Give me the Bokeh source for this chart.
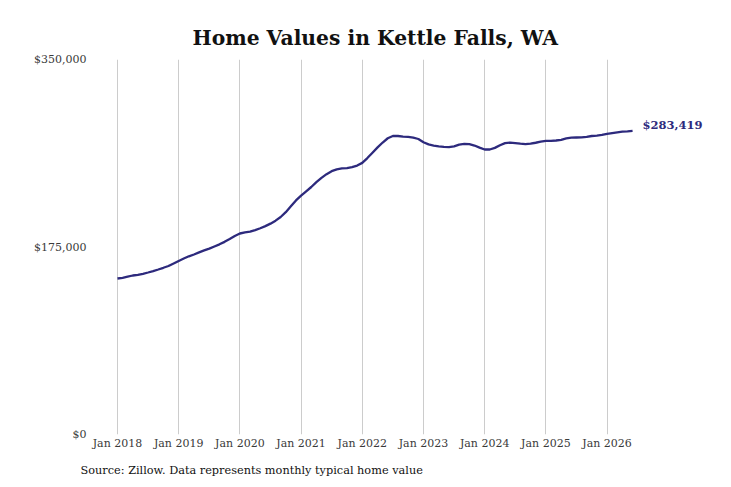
from bokeh.embed import file_html
from bokeh.models import FixedTicker, Label, NumeralTickFormatter, Range1d, Title
from bokeh.plotting import figure
from bokeh.resources import INLINE

TITLE = "Home Values in Kettle Falls, WA"
SOURCE = "Source: Zillow. Data represents monthly typical home value"
FONT = "DejaVu Serif"
LINE_COLOR = "#2d2a7d"

# monthly typical home value, Jan 2018 .. Jun 2026 (thousands of $)
values_2018 = [145.6, 146.2, 147.3, 148.4, 149.0, 150.0, 151.2, 152.5, 154.0, 155.6, 157.3, 159.6]
values_2019 = [162.0, 164.2, 166.3, 168.0, 170.0, 171.8, 173.5, 175.5, 177.5, 179.8, 182.5, 185.3]
values_2020 = [187.6, 188.6, 189.3, 190.8, 192.5, 194.5, 196.8, 199.6, 203.0, 207.5, 213.0, 218.5]
values_2021 = [223.0, 227.0, 231.0, 235.5, 239.5, 243.0, 245.8, 247.5, 248.3, 248.6, 249.5, 251.0]
values_2022 = [253.5, 258.0, 263.0, 268.0, 272.5, 276.5, 278.6, 278.6, 278.0, 277.7, 277.0, 275.8]
values_2023 = [272.8, 270.8, 269.7, 269.0, 268.5, 268.3, 269.0, 270.6, 271.2, 271.0, 269.7, 267.8]
values_2024 = [266.0, 266.0, 267.5, 270.0, 272.0, 272.5, 272.0, 271.4, 271.0, 271.4, 272.3, 273.3]
values_2025 = [274.0, 274.1, 274.4, 275.0, 276.3, 277.0, 277.2, 277.3, 277.8, 278.6, 279.0, 279.6]
values_2026 = [280.6, 281.3, 282.0, 282.6, 283.0, 283.419]

YEARS = [2018, 2019, 2020, 2021, 2022, 2023, 2024, 2025, 2026]
Y_TICKS = [0, 175000, 350000]

values = [v * 1000 for v in values_2018 + values_2019 + values_2020 + values_2021 + values_2022
          + values_2023 + values_2024 + values_2025 + values_2026]
months = list(range(len(values)))
x_ticks = [12 * i for i in range(len(YEARS))]

p = figure(width=731, height=487, output_backend="svg", toolbar_location=None,
           x_range=Range1d(-4.31, 120.4), y_range=Range1d(0, 350000),
           min_border_left=95, min_border_right=0, min_border_top=59, min_border_bottom=53)
p.outline_line_color = None

p.title.text = TITLE
p.title.align = "left"
p.title.offset = 97
p.title.standoff = 19
p.title.text_font = FONT
p.title.text_font_size = "20.3px"
p.title.text_font_style = "bold"
p.title.text_color = "#111111"

p.line(months, values, line_color=LINE_COLOR, line_width=2.3)

p.add_layout(Label(x=months[-1], y=values[-1], text=f"${values[-1]:,.0f}", x_offset=10, y_offset=6,
                   text_font=FONT, text_font_size="11.5px", text_font_style="bold",
                   text_color=LINE_COLOR, text_baseline="middle"))

p.xaxis.ticker = FixedTicker(ticks=x_ticks)
p.xaxis.major_label_overrides = {t: f"Jan {y}" for t, y in zip(x_ticks, YEARS)}
p.yaxis.ticker = FixedTicker(ticks=Y_TICKS)
p.yaxis.formatter = NumeralTickFormatter(format="$0,0")
for ax in (p.xaxis, p.yaxis):
    ax.axis_line_color = None
    ax.major_tick_line_color = None
    ax.minor_tick_line_color = None
    ax.major_tick_out = 0
    ax.major_tick_in = 0
    ax.minor_tick_out = 0
    ax.major_label_text_font = FONT
    ax.major_label_text_color = "#3a3a3a"
p.xaxis.major_label_text_font_size = "11px"
p.yaxis.major_label_text_font_size = "11px"
p.xaxis.major_label_standoff = 2
p.yaxis.major_label_standoff = 9

p.xgrid.ticker = FixedTicker(ticks=x_ticks)
p.xgrid.grid_line_color = "#cccccc"
p.ygrid.grid_line_color = None

p.add_layout(Title(text=SOURCE, align="left", offset=-15, standoff=19, text_font=FONT,
                   text_font_size="11.3px", text_font_style="normal", text_color="#111111"), "below")

open("out.html", "w").write(file_html(p, INLINE))
